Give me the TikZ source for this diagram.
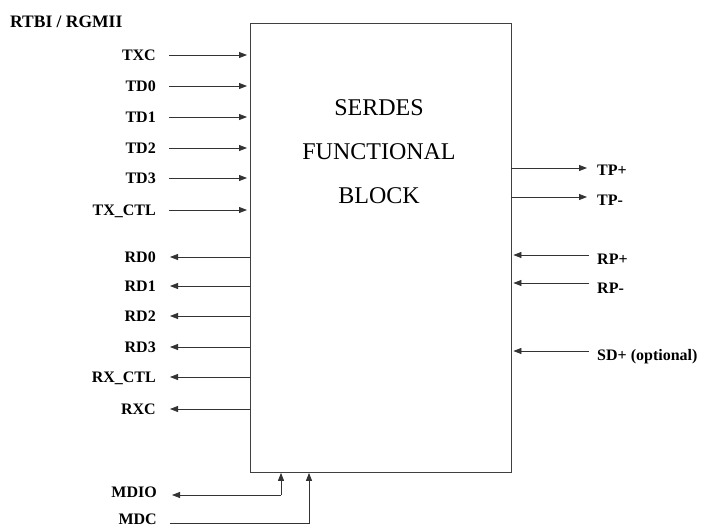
\documentclass[tikz,border=0pt]{standalone}
\usepackage{fontspec}
\setmainfont{Liberation Serif}
\usetikzlibrary{arrows.meta}
\begin{document}
\begin{tikzpicture}[x=1pt,y=-1pt,
  lbl/.style={font=\bfseries\fontsize{16}{19}\selectfont, inner sep=0pt, text height=10.6pt, text depth=0pt},
  big/.style={font=\fontsize{24}{28}\selectfont, inner sep=0pt},
  wire/.style={line width=0.8pt, draw=black!80},
  arr/.style={wire, -{Triangle[length=8pt,width=6pt]}}]
\useasboundingbox (0,0) rectangle (701,527);
\node[draw=black!75, line width=0.9pt, minimum width=260.5pt, minimum height=449pt, anchor=north west, inner sep=0pt] (blk) at (250,23) {};
\node[big] (t1) at (379,108) {SERDES};
\node[big] (t2) at (379,152) {FUNCTIONAL};
\node[big] (t3) at (379,196) {BLOCK};
\node[font=\bfseries\fontsize{17.5}{20}\selectfont, inner sep=0pt, text height=11.6pt, text depth=0pt, anchor=west] (hdr) at (10,21.5) {RTBI / RGMII};
% inputs left
\foreach \n/\t/\y in {txc/TXC/55, tdz/TD0/86, tdo/TD1/117, tdt/TD2/148, tdh/TD3/178, txctl/TX\_CTL/210}{
  \node[lbl, anchor=east] (\n) at (156,\y) {\t};
  \coordinate (\n a) at (169,\y);
  \draw[arr] (\n a) -- ([xshift=-3pt]\n a -| blk.west);
}
% outputs left
\foreach \n/\t/\y in {rdz/RD0/257, rdo/RD1/286, rdt/RD2/316, rdh/RD3/347, rxctl/RX\_CTL/377, rxc/RXC/409}{
  \node[lbl, anchor=east] (\n) at (156,\y) {\t};
  \coordinate (\n a) at (170,\y);
  \draw[arr] (\n a -| blk.west) -- (\n a);
}
% outputs right
\foreach \n/\t/\y/\ly in {tpp/TP+/168/170, tpm/TP-/197/200}{
  \node[lbl, anchor=west] (\n) at (597,\ly) {\t};
  \coordinate (\n a) at (587,\y);
  \draw[arr] (\n a -| blk.east) -- (\n a);
}
% inputs right
\foreach \n/\t/\y/\ly in {rpp/RP+/255/259, rpm/RP-/283/288, sdp/SD+ (optional)/351/355}{
  \node[lbl, anchor=west] (\n) at (597,\ly) {\t};
  \coordinate (\n a) at (589,\y);
  \draw[arr] (\n a) -- ([xshift=2pt]\n a -| blk.east);
}
% management
\node[lbl, anchor=east] (mdio) at (157,492) {MDIO};
\node[lbl, anchor=east] (mdc) at (157,519.5) {MDC};
\coordinate (mdioa) at (172,495);
\coordinate (mdiob) at (281,495);
\coordinate (mdca) at (170,523);
\coordinate (mdcb) at (309,523);
\draw[arr] (mdiob) -- (mdioa);
\draw[arr] (mdiob) -- (mdiob |- blk.south);
\draw[arr] (mdca) -- (mdcb) -- (mdcb |- blk.south);
\end{tikzpicture}
\end{document}
